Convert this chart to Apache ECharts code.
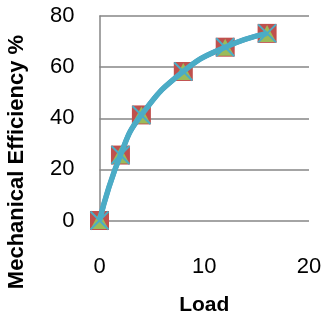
<!DOCTYPE html>
<html><head><meta charset="utf-8">
<script src="https://cdn.jsdelivr.net/npm/echarts@6/dist/echarts.min.js"></script>
<style>html,body{margin:0;padding:0;background:#fff}#c{width:325px;height:327px}</style>
</head><body><div id="c"></div>
<script>
const loads = [0, 2, 4, 8, 12, 16];
const efficiency = [0, 25.6, 41.3, 58.3, 67.8, 73.2];
const xTicks = [0, 10, 20];
const yTicks = [0, 20, 40, 60, 80];
const xTitle = 'Load';
const yTitle = 'Mechanical Efficiency %';

const pts = loads.map((x, i) => [x, efficiency[i]]);
const font = '"Liberation Sans", Arial, sans-serif';
const chart = echarts.init(document.getElementById('c'), null, {renderer: 'canvas'});
chart.setOption({
  animation: false,
  grid: {left: 99.5, right: 16, top: 16, bottom: 106.5},
  xAxis: {
    type: 'value', min: 0, max: 20, interval: 10,
    name: xTitle, nameLocation: 'middle', nameGap: 74,
    nameTextStyle: {fontFamily: font, fontSize: 21, fontWeight: 'bold', color: '#000'},
    axisLine: {show: false}, axisTick: {show: false}, splitLine: {show: false},
    axisLabel: {fontFamily: font, fontSize: 22, color: '#000', margin: 35}
  },
  yAxis: {
    type: 'value', min: 0, max: 80, interval: 20,
    axisLine: {show: true, lineStyle: {color: '#868686', width: 1.5}},
    axisTick: {show: false},
    splitLine: {show: true, lineStyle: {color: '#868686', width: 1.5}},
    axisLabel: {fontFamily: font, fontSize: 22, color: '#000', margin: 25}
  },
  graphic: [{
    type: 'text', rotation: Math.PI / 2, x: 17, y: 162,
    style: {text: yTitle, font: 'bold 22px ' + font, fill: '#000', align: 'center', verticalAlign: 'middle'}
  }],
  series: [
    {type: 'line', data: pts, smooth: true, lineStyle: {color: '#4F81BD', width: 5}, symbol: 'diamond', symbolSize: 12, itemStyle: {color: '#4F81BD'}, z: 2},
    {type: 'line', data: pts, smooth: true, lineStyle: {width: 0, opacity: 0}, symbol: 'rect', symbolSize: 19, itemStyle: {color: '#C0504D'}, z: 3},
    {type: 'line', data: pts, smooth: true, lineStyle: {width: 0, opacity: 0}, symbol: 'triangle', symbolSize: [18, 17], itemStyle: {color: '#9BBB59'}, z: 4},
    {type: 'line', data: pts, smooth: true, lineStyle: {width: 0, opacity: 0}, symbol: 'path://M0,0L10,10M10,0L0,10', symbolSize: 18, itemStyle: {color: 'none', borderColor: '#4BACC6', borderWidth: 2}, z: 5},
    {type: 'line', data: pts, smooth: true, lineStyle: {color: '#4BACC6', width: 5.5}, symbol: 'none', z: 6}
  ]
});
</script></body></html>
